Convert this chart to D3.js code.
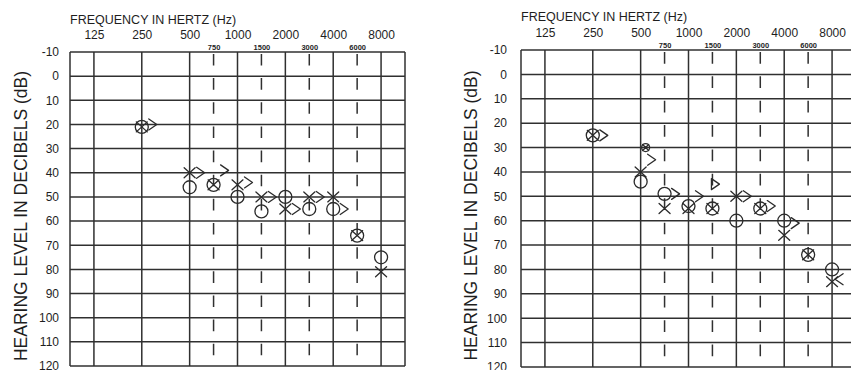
<!DOCTYPE html>
<html>
<head>
<meta charset="utf-8">
<script src="https://cdn.jsdelivr.net/npm/d3@7"></script>
<style>
  body { margin: 0; background: #fff; }
  svg { display: block; font-family: "Liberation Sans", Arial, Helvetica, sans-serif; }
  .grid line { stroke: #303030; stroke-width: 1.5; }
  .mark { fill: none; stroke: #2a2a2a; stroke-width: 1.3; stroke-linecap: round; stroke-linejoin: round; }
  text { fill: #1e1e1e; }
</style>
</head>
<body>
<svg id="audiograms" width="851" height="370"></svg>
<script>
const width = 851, height = 370;
const svg = d3.select("#audiograms");

// axes
const octaveFreqs = [125, 250, 500, 1000, 2000, 4000, 8000];
const midFreqs = [750, 1500, 3000, 6000];
const dbTicks = [-10, 0, 10, 20, 30, 40, 50, 60, 70, 80, 90, 100, 110, 120];

// left audiogram  [frequency Hz, dB HL]
const leftCircles = [[250, 21], [500, 46], [750, 45], [1000, 50], [1500, 56], [2000, 50], [3000, 55], [4000, 55], [6000, 66], [8000, 75]];
const leftCrosses = [[250, 21], [500, 40], [750, 45], [1000, 45], [1500, 50], [2000, 55], [3000, 50], [4000, 50], [6000, 66], [8000, 81]];
const leftBone    = [[250, 20], [500, 40], [750, 39], [1000, 44], [1500, 50], [2000, 55], [3000, 50], [4000, 55]];

// right audiogram
const rightCircles = [[250, 25], [500, 44], [750, 49], [1000, 54], [1500, 55], [2000, 60], [3000, 55], [4000, 60], [6000, 74], [8000, 80]];
const rightCrosses = [[250, 25], [500, 40], [750, 55], [1000, 55], [1500, 55], [2000, 50], [3000, 55], [4000, 66], [6000, 74], [8000, 85]];
const rightBone    = [[250, 25], [500, 35], [750, 49], [1000, 50], [2000, 50], [3000, 54], [4000, 61]];
const rightTriangles = [[1500, 45]];
const rightBoneLeft  = [[8000, 84]];
const rightScribble  = [[500, 30]];

const panels = [
  { x0: 70, x1: 405, y0: 52, y1: 366, titleY: 24, freqPad: 13, midPad: 2.5, dbPad: 11, yTitleX: 27,
    circles: leftCircles, crosses: leftCrosses, bone: leftBone, triangles: [], boneLeft: [], scribble: [] },
  { x0: 521, x1: 856, y0: 50, y1: 367, titleY: 21, freqPad: 13, midPad: 2.5, dbPad: 14, yTitleX: 477,
    circles: rightCircles, crosses: rightCrosses, bone: rightBone, triangles: rightTriangles,
    boneLeft: rightBoneLeft, scribble: rightScribble }
];

// 750, 1500... sit half way between octaves on an audiogram
const plotFreq = f => midFreqs.includes(f) ? f / 1.5 * Math.SQRT2 : f;

const shapes = {
  cross: "M-5.5,-5L5.5,5M-5.5,5L5.5,-5",
  bone: "M-4,-5.5L4,0L-4,5.5",
  triangle: "M-4,-5.5L4,0L-4,5.5Z",
  boneLeft: "M4,-5.5L-4,0L4,5.5",
  scribble: "M-3,-3L3,3M-3,3L3,-3"
};

panels.forEach(p => {
  const x = d3.scaleLog().base(2)
    .domain([125 / Math.SQRT2, 8000 * Math.SQRT2])
    .range([p.x0, p.x1]);
  const y = d3.scaleLinear().domain([-10, 120]).range([p.y0, p.y1]);
  const g = svg.append("g");

  // grid
  const grid = g.append("g").attr("class", "grid");
  grid.selectAll(".h").data(dbTicks).join("line")
    .attr("x1", p.x0).attr("x2", p.x1)
    .attr("y1", d => y(d)).attr("y2", d => y(d));
  grid.selectAll(".v").data([125 / Math.SQRT2, ...octaveFreqs, 8000 * Math.SQRT2]).join("line")
    .attr("x1", d => x(d)).attr("x2", d => x(d))
    .attr("y1", p.y0).attr("y2", p.y1);
  const band = y(0) - y(-10);
  grid.selectAll(".m").data(midFreqs).join("line")
    .attr("x1", d => x(plotFreq(d))).attr("x2", d => x(plotFreq(d)))
    .attr("y1", p.y0).attr("y2", p.y1)
    .attr("stroke-dasharray", `${band * 0.48} ${band * 0.52}`)
    .attr("stroke-dashoffset", -band * 0.08);

  // axes
  const top = g.append("g").attr("transform", `translate(0,${p.y0})`)
    .call(d3.axisTop(x).tickValues(octaveFreqs).tickSize(0).tickPadding(p.freqPad).tickFormat(d => String(d)));
  top.select(".domain").remove();
  top.attr("font-size", 12).attr("font-family", null);

  const mid = g.append("g").attr("transform", `translate(0,${p.y0})`)
    .call(d3.axisTop(x).tickValues(midFreqs.map(plotFreq)).tickSize(0).tickPadding(p.midPad)
      .tickFormat((d, i) => midFreqs[i]));
  mid.select(".domain").remove();
  mid.attr("font-size", 7.5).attr("font-weight", "bold").attr("font-family", null);

  // plain hyphen for -10, like the printed form
  const left = g.append("g").attr("transform", `translate(${p.x0},0)`)
    .call(d3.axisLeft(y).tickValues(dbTicks).tickSize(0).tickPadding(p.dbPad).tickFormat(d => String(d)));
  left.select(".domain").remove();
  left.attr("font-size", 12).attr("font-family", null);

  g.append("text")
    .attr("x", p.x0).attr("y", p.titleY)
    .attr("font-size", 12.5)
    .text("FREQUENCY IN HERTZ (Hz)");

  g.append("text")
    .attr("transform", `translate(${p.yTitleX},${(p.y0 + p.y1) / 2 + 7}) rotate(-90)`)
    .attr("text-anchor", "middle")
    .attr("font-size", 17.5)
    .text("HEARING LEVEL IN DECIBELS (dB)");

  // symbols
  const marks = g.append("g").attr("class", "mark");
  const at = (d, dx = 0) => `translate(${x(plotFreq(d[0])) + dx},${y(d[1])})`;

  marks.selectAll(".o").data(p.circles).join("circle")
    .attr("transform", d => at(d)).attr("r", 6.5);
  marks.selectAll(".x").data(p.crosses).join("path")
    .attr("transform", d => at(d)).attr("d", shapes.cross);
  marks.selectAll(".b").data(p.bone).join("path")
    .attr("transform", d => at(d, 11)).attr("d", shapes.bone);
  marks.selectAll(".t").data(p.triangles).join("path")
    .attr("transform", d => at(d, 3)).attr("d", shapes.triangle);
  marks.selectAll(".bl").data(p.boneLeft).join("path")
    .attr("transform", d => at(d, 7)).attr("d", shapes.boneLeft);
  marks.selectAll(".s").data(p.scribble).join("circle")
    .attr("transform", d => at(d, 5)).attr("r", 4);
  marks.selectAll(".sx").data(p.scribble).join("path")
    .attr("transform", d => at(d, 5)).attr("d", shapes.scribble);
});
</script>
</body>
</html>
